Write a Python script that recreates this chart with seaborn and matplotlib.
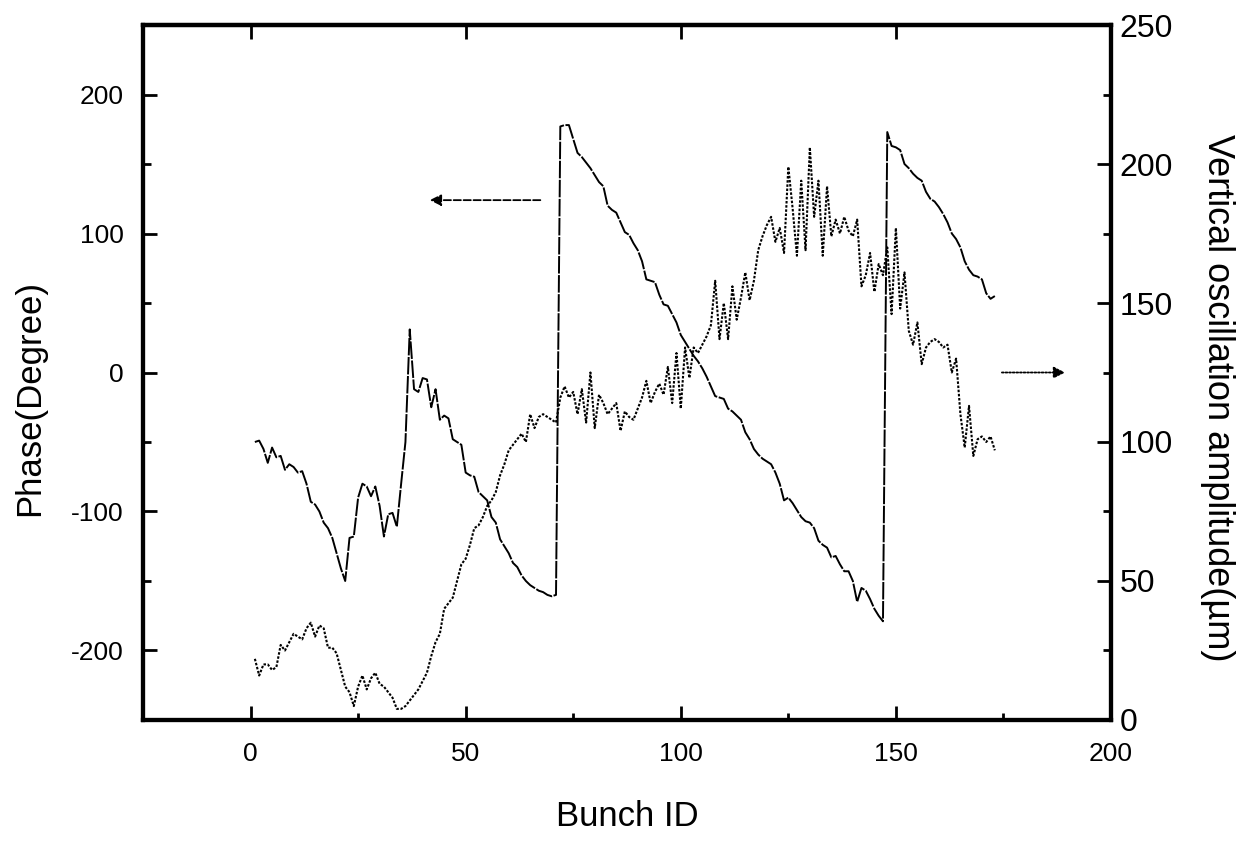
import numpy as np
import pandas as pd
import matplotlib
matplotlib.use("Agg")
import matplotlib.pyplot as plt
from matplotlib.ticker import MultipleLocator
import seaborn as sns

# bunch index
bunch_id = list(range(1, 174))

# phase in degrees (left axis)
phase_deg = [
    -50, -49, -55, -65, -54, -61, -60, -70, -66, -68,
    -72, -71, -80, -93, -95, -100, -108, -112, -119, -130,
    -141, -150, -119, -118, -90, -80, -82, -89, -82, -96,
    -118, -102, -101, -111, -80, -50, 31, -12, -14, -4,
    -5, -25, -12, -34, -31, -33, -48, -50, -52, -72,
    -74, -75, -86, -89, -92, -104, -108, -120, -125, -130,
    -137, -140, -146, -150, -153, -155, -157, -158, -160, -161,
    -160, 177, 178, 178, 168, 158, 155, 151, 147, 142,
    137, 134, 120, 117, 115, 108, 101, 99, 93, 88,
    80, 67, 66, 65, 56, 49, 48, 42, 36, 27,
    22, 17, 12, 8, 3, -3, -10, -17, -18, -19,
    -26, -28, -31, -34, -43, -48, -55, -59, -62, -64,
    -66, -72, -80, -92, -90, -94, -99, -104, -107, -108,
    -112, -121, -124, -126, -133, -132, -138, -143, -143, -150,
    -165, -155, -157, -163, -170, -175, -179, 173, 163, 162,
    160, 150, 147, 143, 140, 138, 130, 125, 123, 119,
    114, 108, 100, 96, 90, 80, 74, 70, 69, 67,
    57, 53, 55,
]

# vertical oscillation amplitude in um (right axis)
amplitude_um = [
    22, 16, 20, 20, 18, 19, 27, 25, 28, 31,
    30, 29, 33, 35, 30, 34, 33, 26, 26, 24,
    18, 12, 10, 5, 12, 16, 11, 15, 17, 13,
    12, 10, 8, 4, 4, 5, 7, 9, 11, 14,
    17, 23, 28, 31, 40, 42, 44, 50, 56, 58,
    63, 69, 70, 73, 77, 79, 82, 88, 92, 97,
    99, 101, 103, 100, 110, 105, 109, 110, 109, 108,
    107, 116, 120, 116, 118, 110, 119, 107, 125, 105,
    117, 114, 110, 112, 114, 104, 111, 109, 108, 112,
    116, 122, 114, 118, 121, 117, 127, 114, 132, 112,
    134, 123, 134, 132, 135, 138, 142, 158, 137, 150,
    137, 156, 144, 152, 161, 151, 158, 169, 174, 178,
    181, 172, 177, 168, 199, 184, 167, 194, 169, 206,
    181, 194, 167, 192, 174, 180, 175, 181, 176, 174,
    180, 156, 160, 168, 154, 164, 160, 170, 146, 177,
    148, 161, 140, 135, 143, 128, 134, 136, 137, 136,
    134, 135, 125, 130, 110, 98, 113, 95, 101, 102,
    100, 102, 97,
]

df = pd.DataFrame({"bunch": bunch_id, "phase": phase_deg, "amp": amplitude_um})

sns.set_style("ticks")
plt.rcParams["font.family"] = ["Liberation Sans", "DejaVu Sans"]
plt.rcParams["axes.unicode_minus"] = False
plt.rcParams["text.color"] = "black"
plt.rcParams["axes.labelcolor"] = "black"
plt.rcParams["xtick.color"] = "black"
plt.rcParams["ytick.color"] = "black"
plt.rcParams["axes.edgecolor"] = "black"

fig = plt.figure(figsize=(12.49, 8.42), dpi=100)
ax = fig.add_axes([0.1145, 0.1449, 0.775, 0.8254])
ax2 = ax.twinx()

sns.lineplot(data=df, x="bunch", y="phase", ax=ax, color="black",
             lw=1.4, linestyle=(0, (9, 0.8)))
sns.lineplot(data=df, x="bunch", y="amp", ax=ax2, color="black",
             lw=1.5, linestyle=(0, (1.2, 0.8)))

ax.set_xlim(-25, 200)
ax.set_ylim(-250, 250)
ax2.set_ylim(0, 250)

ax.xaxis.set_major_locator(MultipleLocator(50))
ax.xaxis.set_minor_locator(MultipleLocator(25))
ax.set_yticks([-200, -100, 0, 100, 200])
ax.yaxis.set_minor_locator(MultipleLocator(50))
ax2.yaxis.set_major_locator(MultipleLocator(50))
ax2.yaxis.set_minor_locator(MultipleLocator(25))

for a in (ax, ax2):
    for sp in a.spines.values():
        sp.set_linewidth(3)
        sp.set_color("black")

ax.tick_params(axis="x", which="both", direction="in", top=False, width=2, pad=16, labelsize=19)
ax.tick_params(axis="x", which="major", length=10)
ax.tick_params(axis="x", which="minor", length=5)
ax.tick_params(axis="y", which="both", direction="in", width=2, pad=14, labelsize=19)
ax.tick_params(axis="y", which="major", length=10)
ax.tick_params(axis="y", which="minor", length=6)
ax2.tick_params(axis="y", which="both", direction="in", width=2, pad=6, labelsize=23)
ax2.tick_params(axis="y", which="major", length=10)
ax2.tick_params(axis="y", which="minor", length=6)

# top ticks: majors only
top = ax.secondary_xaxis("top")
top.set_xticks([0, 50, 100, 150])
top.tick_params(direction="in", length=10, width=2, labeltop=False)
top.spines["top"].set_linewidth(3)

ax.set_xlabel("Bunch ID", fontsize=25, labelpad=24)
ax.set_ylabel("Phase(Degree)", fontsize=25, va="center")
ax.yaxis.set_label_coords(-0.117, 0.463)
ax2.set_ylabel("Vertical oscillation amplitude(\u00b5m)", fontsize=26, rotation=270, va="center")
ax2.yaxis.set_label_coords(1.11, 0.463)

# arrows pointing to the matching axis
ax.annotate("", xy=(41, 124), xytext=(68, 124),
            arrowprops=dict(arrowstyle="-|>", color="black", lw=1.3,
                            linestyle=(0, (4, 1.5)), mutation_scale=17))
ax2.annotate("", xy=(190, 125), xytext=(174, 125),
             arrowprops=dict(arrowstyle="-|>", color="black", lw=1.3,
                             linestyle=(0, (1, 1)), mutation_scale=17))

fig.savefig("out.png", dpi=100)
